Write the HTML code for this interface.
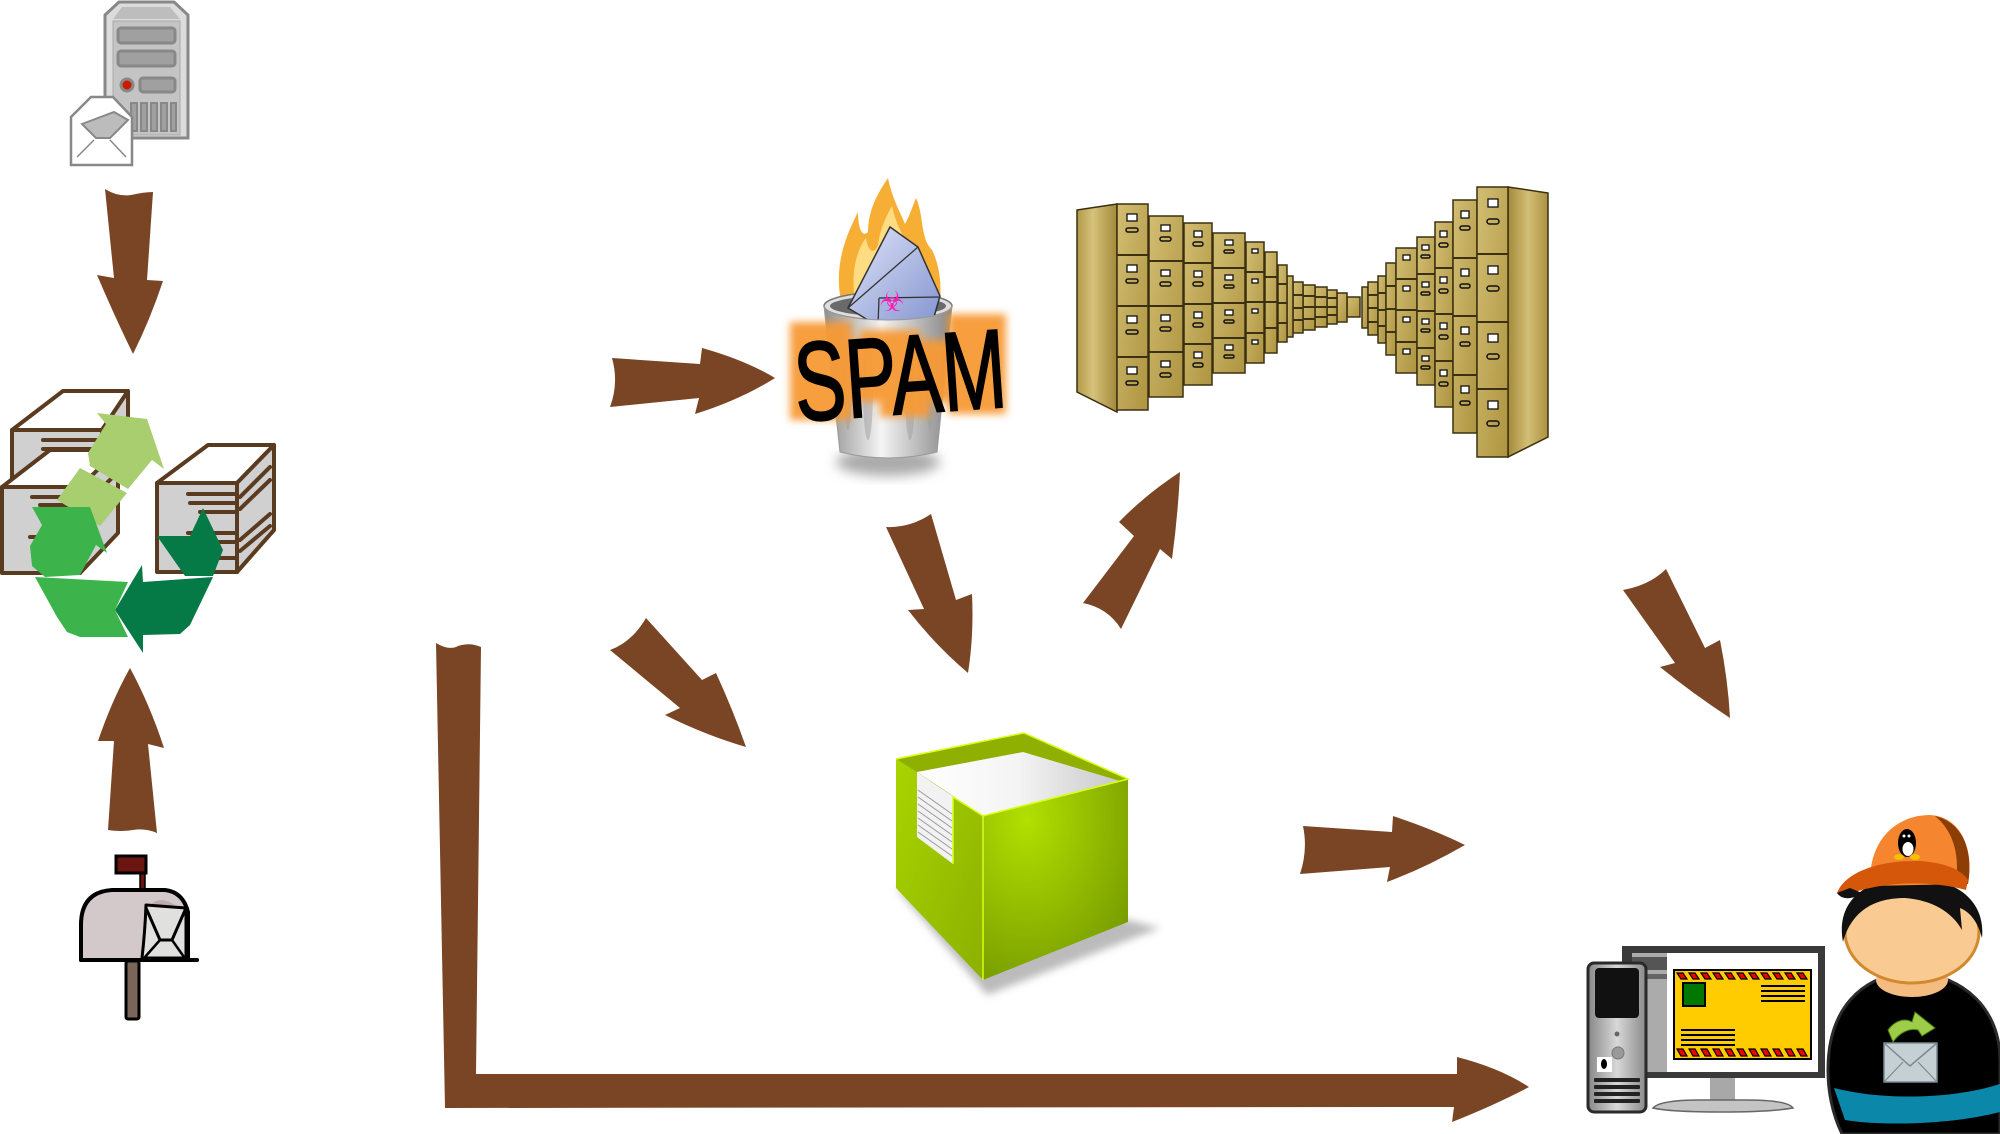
<!DOCTYPE html>
<html><head><meta charset="utf-8">
<style>html,body{margin:0;padding:0;background:#fff;width:2000px;height:1134px;overflow:hidden}</style>
</head><body>
<svg width="2000" height="1134" viewBox="0 0 2000 1134" xmlns="http://www.w3.org/2000/svg">
<defs>
<style>
.ar{fill:#7a4524}
.bx{stroke:#5b3b1f;stroke-width:4;stroke-linejoin:round}
.bl{stroke:#5b3b1f;stroke-width:4;stroke-linecap:round}
.cf{fill:url(#cabF);stroke:#3b3010;stroke-width:1.5}
.dl{stroke:#3b3010;stroke-width:2}
.lb{fill:#fff;stroke:#111;stroke-width:1.3}
.hd{fill:none;stroke:#111;stroke-width:1.5}
</style>
<linearGradient id="cabF" x1="0" y1="0" x2="1" y2="1"><stop offset="0" stop-color="#d2bd72"/><stop offset="1" stop-color="#ad9440"/></linearGradient>
<linearGradient id="cabS" x1="0" y1="0" x2="1" y2="0"><stop offset="0" stop-color="#b39a4a"/><stop offset=".4" stop-color="#d6c27a"/><stop offset="1" stop-color="#a38a3a"/></linearGradient>
<linearGradient id="cabS2" x1="0" y1="0" x2="1" y2="0"><stop offset="0" stop-color="#a38a3a"/><stop offset=".5" stop-color="#d2be76"/><stop offset="1" stop-color="#ab9240"/></linearGradient>
<linearGradient id="canG" x1="0" y1="0" x2="1" y2="0"><stop offset="0" stop-color="#8e8e8e"/><stop offset=".45" stop-color="#f4f4f4"/><stop offset="1" stop-color="#858585"/></linearGradient>
<linearGradient id="envG" x1="0" y1="0" x2="1" y2="1"><stop offset="0" stop-color="#dfe5f7"/><stop offset="1" stop-color="#8393d0"/></linearGradient>
<linearGradient id="papG" x1="0" y1="0" x2="1" y2="0"><stop offset="0" stop-color="#ffffff"/><stop offset=".5" stop-color="#f4f4f4"/><stop offset="1" stop-color="#c8c8c8"/></linearGradient>
<linearGradient id="lfG" x1="0" y1="0" x2="1" y2="1"><stop offset="0" stop-color="#a9d400"/><stop offset="1" stop-color="#8cb000"/></linearGradient>
<radialGradient id="rfG" cx=".3" cy=".2" r=".9"><stop offset="0" stop-color="#b2e000"/><stop offset="1" stop-color="#769a00"/></radialGradient>
<linearGradient id="towG" x1="0" y1="0" x2="1" y2="0"><stop offset="0" stop-color="#888"/><stop offset=".5" stop-color="#d8d8d8"/><stop offset="1" stop-color="#8a8a8a"/></linearGradient>
<filter id="bl4" x="-20%" y="-20%" width="140%" height="140%"><feGaussianBlur stdDeviation="4"/></filter>
<filter id="bl6" x="-30%" y="-30%" width="160%" height="160%"><feGaussianBlur stdDeviation="6"/></filter>
</defs>

<!-- ===== Server icon ===== -->
<polygon points="105,15 119,2 174,2 188,15 188,138 105,138" fill="#dcdcdc" stroke="#888" stroke-width="3"/>
<polygon points="113,19 122,7 170,7 180,19" fill="#bdbdbd"/>
<rect x="113" y="21" width="67" height="114" fill="#c4c4c4" stroke="#aaa" stroke-width="1"/>
<rect x="118" y="28" width="57" height="15" rx="3" fill="#a0a0a0" stroke="#888" stroke-width="3"/>
<rect x="118" y="51" width="57" height="15" rx="3" fill="#a0a0a0" stroke="#888" stroke-width="3"/>
<circle cx="127" cy="85" r="6" fill="#cc1a00" stroke="#888" stroke-width="3"/>
<rect x="140" y="78" width="35" height="14" rx="3" fill="#a0a0a0" stroke="#888" stroke-width="3"/>
<g fill="#a0a0a0" stroke="#888" stroke-width="2">
<rect x="131" y="103" width="6" height="28"/><rect x="141" y="103" width="6" height="28"/><rect x="151" y="103" width="6" height="28"/><rect x="161" y="103" width="6" height="28"/><rect x="171" y="103" width="5" height="28"/>
</g>
<polygon points="71,117 91,97 113,97 132,117 132,165 71,165" fill="#fff" stroke="#888" stroke-width="2.5"/>
<polygon points="82,124 114,112 128,120 110,138 96,138" fill="#bcbcbc" stroke="#888" stroke-width="2"/>
<line x1="77" y1="157" x2="94" y2="140" stroke="#888" stroke-width="1.5"/>
<line x1="126" y1="157" x2="110" y2="140" stroke="#888" stroke-width="1.5"/>

<!-- Arrow down -->
<path class="ar" d="M105,189 Q118,197 131,195 Q144,192 153,192 L147,280 L163,281 Q150,320 133,354 Q114,315 97,275 L114,278 Z"/>

<!-- ===== Recycle icon ===== -->
<g class="bx">
<polygon points="12,430 63,391 128,391 102,430" fill="#fff"/>
<rect x="12" y="430" width="90" height="57" fill="#d0d0d0"/>
<polygon points="102,430 128,391 128,445 102,484" fill="#d0d0d0"/>
<polygon points="2,487 50,450 118,450 80,487" fill="#fff"/>
<rect x="2" y="487" width="78" height="86" fill="#d0d0d0"/>
<polygon points="80,487 118,450 118,533 80,573" fill="#d0d0d0"/>
<polygon points="157,483 208,445 274,445 237,483" fill="#fff"/>
<rect x="157" y="483" width="80" height="89" fill="#d0d0d0"/>
<polygon points="237,483 274,445 274,530 237,572" fill="#d0d0d0"/>
</g>
<g class="bl">
<line x1="43" y1="440" x2="100" y2="440"/><line x1="43" y1="449" x2="100" y2="449"/>
<line x1="32" y1="497" x2="80" y2="497"/><line x1="40" y1="505" x2="80" y2="505"/><line x1="30" y1="537" x2="80" y2="537"/>
<line x1="188" y1="494" x2="237" y2="494"/><line x1="190" y1="503" x2="237" y2="503"/><line x1="200" y1="512" x2="237" y2="512"/>
<line x1="188" y1="533" x2="237" y2="533"/><line x1="198" y1="542" x2="237" y2="542"/><line x1="188" y1="558" x2="237" y2="558"/>
<line x1="240" y1="497" x2="270" y2="467"/><line x1="240" y1="509" x2="270" y2="480"/><line x1="240" y1="540" x2="270" y2="514"/><line x1="240" y1="551" x2="270" y2="526"/>
<line x1="84" y1="505" x2="114" y2="476"/><line x1="84" y1="520" x2="114" y2="490"/>
</g>
<polygon fill="#a8ce70" points="97,413 147,419 164,469 152,460 128,489 90,466 88,453 106,424"/>
<polygon fill="#a8ce70" points="80,468 127,493 100,526 57,500"/>
<polygon fill="#3cb44b" points="32,507 90,507 107,553 96,545 80,575 45,577 32,566 30,546 42,525"/>
<polygon fill="#3cb44b" points="35,577 128,582 115,610 128,637 80,637 67,632 57,617"/>
<polygon fill="#057a47" points="115,610 142,565 143,582 213,577 190,625 180,634 143,635 143,653"/>
<polygon fill="#057a47" points="203,508 223,550 213,576 185,576 157,536 190,536"/>

<!-- Arrow up -->
<path class="ar" d="M130,668 Q150,705 164,748 L148,744 L157,833 Q145,828 133,830 Q120,832 108,830 L114,741 L98,741 Q112,700 130,668 Z"/>

<!-- ===== Mailbox ===== -->
<rect x="140" y="870" width="5" height="22" fill="#6b1510" stroke="#000" stroke-width="1.5"/>
<rect x="116" y="856" width="30" height="17" fill="#6b1510" stroke="#000" stroke-width="3"/>
<path d="M81,960 L81,925 Q81,892 112,890 L165,890 Q183,892 188,912 L188,960 Z" fill="#d3c9cb" stroke="#000" stroke-width="4" stroke-linejoin="round"/>
<path d="M150,905 Q160,895 175,905 Z" fill="#c2aaab"/>
<path d="M146,905 Q145,932 142,958 L186,958 L186,908 Z" fill="#e0e0de" stroke="#000" stroke-width="3" stroke-linejoin="round"/>
<path d="M146,908 L160,940 L172,940 L186,908" fill="none" stroke="#000" stroke-width="3"/>
<line x1="145" y1="957" x2="160" y2="940" stroke="#000" stroke-width="2.5"/>
<line x1="184" y1="957" x2="172" y2="940" stroke="#000" stroke-width="2.5"/>
<line x1="81" y1="960" x2="197" y2="960" stroke="#000" stroke-width="4" stroke-linecap="round"/>
<rect x="126" y="961" width="13" height="58" rx="2" fill="#7a6558" stroke="#000" stroke-width="3"/>

<!-- Arrow to spam -->
<path class="ar" d="M612,358 L700,364 L702,348 Q745,360 775,378 Q740,400 695,414 L699,398 L610,407 Q619,383 612,358 Z"/>

<!-- ===== Spam trash ===== -->
<ellipse cx="888" cy="462" rx="52" ry="14" fill="#aaa" filter="url(#bl6)"/>
<path d="M842,305 C832,265 848,232 858,212 C858,228 862,238 868,232 C868,208 880,190 888,178 C892,198 900,212 905,224 C910,215 913,205 916,198 C924,215 920,238 932,250 C938,262 942,280 940,300 Z" fill="#f7ae35"/>
<path d="M855,300 C850,270 858,248 866,238 C868,252 874,255 878,245 C880,228 887,215 892,206 C896,225 905,240 912,250 C918,262 924,278 922,300 Z" fill="#fddc82"/>
<ellipse cx="888" cy="306" rx="64" ry="14" fill="#dedede" stroke="#777" stroke-width="1.5"/>
<ellipse cx="888" cy="306" rx="58" ry="10" fill="#6a6a6a"/>
<polygon points="848,308 890,227 918,247 940,296 932,324 878,326" fill="url(#envG)" stroke="#333" stroke-width="1.5"/>
<g fill="none" stroke="#333" stroke-width="1.3"><line x1="848" y1="308" x2="918" y2="247"/><line x1="879" y1="298" x2="940" y2="297"/><line x1="878" y1="326" x2="879" y2="298"/></g>
<text x="892" y="311" font-family="DejaVu Sans, sans-serif" font-size="28" fill="#ff1ab4" text-anchor="middle">☣</text>
<path d="M824,306 A64,14 0 0 0 952,306 L937,452 Q888,464 840,452 Z" fill="url(#canG)" stroke="#999" stroke-width="1"/>
<g fill="#9a9a9a" opacity=".45"><ellipse cx="848" cy="385" rx="4" ry="45"/><ellipse cx="868" cy="390" rx="5" ry="50"/><ellipse cx="910" cy="390" rx="5" ry="50"/><ellipse cx="930" cy="385" rx="4" ry="45"/></g>
<g fill="#f79a35" opacity=".95" filter="url(#bl4)">
<rect x="790" y="322" width="62" height="98"/>
<rect x="830" y="340" width="140" height="62"/>
<rect x="948" y="314" width="58" height="100"/>
<rect x="860" y="330" width="60" height="20"/>
<rect x="880" y="395" width="50" height="22"/>
</g>
<text x="794" y="414" font-family="Liberation Sans, sans-serif" font-size="112" textLength="212" lengthAdjust="spacingAndGlyphs" fill="#000" stroke="#000" stroke-width="2" transform="rotate(-4 900 375)">SPAM</text>

<!-- ===== File cabinets ===== -->
<polygon points="1077,210 1117,204 1117,412 1077,392" fill="url(#cabS)" stroke="#3b3010" stroke-width="1.5"/>
<rect class="cf" x="1347" y="297" width="13" height="20"/>
<rect class="cf" x="1337" y="293" width="10" height="29"/>
<rect class="cf" x="1327" y="290" width="10" height="34"/>
<rect class="cf" x="1315" y="287" width="12" height="40"/>
<rect class="cf" x="1303" y="285" width="12" height="45"/>
<rect class="cf" x="1293" y="282" width="10" height="51"/>
<rect class="cf" x="1287" y="276" width="6" height="61"/>
<rect class="cf" x="1278" y="265" width="9" height="77"/>
<rect class="cf" x="1265" y="252" width="12" height="101"/>
<rect class="cf" x="1246" y="242" width="18" height="121"/>
<rect class="cf" x="1213" y="233" width="32" height="140"/>
<rect class="cf" x="1184" y="223" width="28" height="162"/>
<rect class="cf" x="1149" y="216" width="34" height="181"/>
<rect class="cf" x="1117" y="204" width="31" height="206"/>
<g class="dl">
<line x1="1117" y1="255" x2="1148" y2="255"/><line x1="1117" y1="306" x2="1148" y2="306"/><line x1="1117" y1="357" x2="1148" y2="357"/>
<line x1="1149" y1="261" x2="1183" y2="261"/><line x1="1149" y1="306" x2="1183" y2="306"/><line x1="1149" y1="352" x2="1183" y2="352"/>
<line x1="1184" y1="263" x2="1212" y2="263"/><line x1="1184" y1="304" x2="1212" y2="304"/><line x1="1184" y1="344" x2="1212" y2="344"/>
<line x1="1213" y1="268" x2="1245" y2="268"/><line x1="1213" y1="303" x2="1245" y2="303"/><line x1="1213" y1="338" x2="1245" y2="338"/>
<line x1="1246" y1="272" x2="1264" y2="272"/><line x1="1246" y1="302" x2="1264" y2="302"/><line x1="1246" y1="333" x2="1264" y2="333"/>
<line x1="1265" y1="277" x2="1277" y2="277"/><line x1="1265" y1="302" x2="1277" y2="302"/><line x1="1265" y1="328" x2="1277" y2="328"/>
<line x1="1278" y1="284" x2="1287" y2="284"/><line x1="1278" y1="303" x2="1287" y2="303"/><line x1="1278" y1="323" x2="1287" y2="323"/>
<line x1="1293" y1="295" x2="1303" y2="295"/><line x1="1293" y1="308" x2="1303" y2="308"/><line x1="1293" y1="320" x2="1303" y2="320"/>
<line x1="1303" y1="296" x2="1315" y2="296"/><line x1="1303" y1="307" x2="1315" y2="307"/><line x1="1303" y1="319" x2="1315" y2="319"/>
<line x1="1315" y1="297" x2="1327" y2="297"/><line x1="1315" y1="307" x2="1327" y2="307"/><line x1="1315" y1="317" x2="1327" y2="317"/>
<line x1="1327" y1="298" x2="1337" y2="298"/><line x1="1327" y1="307" x2="1337" y2="307"/><line x1="1327" y1="315" x2="1337" y2="315"/>
</g>
<g>
<rect class="lb" x="1127" y="214" width="10" height="7"/><rect class="hd" x="1126" y="228" width="12" height="4" rx="2"/>
<rect class="lb" x="1127" y="265" width="10" height="7"/><rect class="hd" x="1126" y="279" width="12" height="4" rx="2"/>
<rect class="lb" x="1127" y="316" width="10" height="7"/><rect class="hd" x="1126" y="330" width="12" height="4" rx="2"/>
<rect class="lb" x="1127" y="367" width="10" height="7"/><rect class="hd" x="1126" y="381" width="12" height="4" rx="2"/>
<rect class="lb" x="1161" y="225" width="9" height="6"/><rect class="hd" x="1160" y="237" width="11" height="4" rx="2"/>
<rect class="lb" x="1161" y="270" width="9" height="6"/><rect class="hd" x="1160" y="282" width="11" height="4" rx="2"/>
<rect class="lb" x="1161" y="315" width="9" height="6"/><rect class="hd" x="1160" y="327" width="11" height="4" rx="2"/>
<rect class="lb" x="1161" y="361" width="9" height="6"/><rect class="hd" x="1160" y="373" width="11" height="4" rx="2"/>
<rect class="lb" x="1194" y="231" width="8" height="6"/><rect class="hd" x="1193" y="242" width="10" height="4" rx="2"/>
<rect class="lb" x="1194" y="271" width="8" height="6"/><rect class="hd" x="1193" y="282" width="10" height="4" rx="2"/>
<rect class="lb" x="1194" y="312" width="8" height="6"/><rect class="hd" x="1193" y="323" width="10" height="4" rx="2"/>
<rect class="lb" x="1194" y="352" width="8" height="6"/><rect class="hd" x="1193" y="363" width="10" height="4" rx="2"/>
<rect class="lb" x="1225" y="240" width="8" height="5"/><rect class="hd" x="1224" y="250" width="10" height="3" rx="1.5"/>
<rect class="lb" x="1225" y="275" width="8" height="5"/><rect class="hd" x="1224" y="285" width="10" height="3" rx="1.5"/>
<rect class="lb" x="1225" y="310" width="8" height="5"/><rect class="hd" x="1224" y="320" width="10" height="3" rx="1.5"/>
<rect class="lb" x="1225" y="345" width="8" height="5"/><rect class="hd" x="1224" y="355" width="10" height="3" rx="1.5"/>
<rect class="lb" x="1252" y="249" width="6" height="4"/><rect class="lb" x="1252" y="279" width="6" height="4"/><rect class="lb" x="1252" y="309" width="6" height="4"/><rect class="lb" x="1252" y="340" width="6" height="4"/>
</g>
<rect class="cf" x="1362" y="287" width="6" height="41"/>
<rect class="cf" x="1368" y="282" width="10" height="53"/>
<rect class="cf" x="1378" y="276" width="8" height="67"/>
<rect class="cf" x="1386" y="263" width="10" height="92"/>
<rect class="cf" x="1396" y="248" width="21" height="125"/>
<rect class="cf" x="1417" y="237" width="18" height="148"/>
<rect class="cf" x="1435" y="222" width="18" height="185"/>
<rect class="cf" x="1453" y="200" width="24" height="233"/>
<polygon points="1508,187 1548,193 1548,437 1508,457" fill="url(#cabS2)" stroke="#3b3010" stroke-width="1.5"/>
<rect class="cf" x="1477" y="187" width="31" height="270"/>
<g class="dl">
<line x1="1477" y1="254" x2="1508" y2="254"/><line x1="1477" y1="322" x2="1508" y2="322"/><line x1="1477" y1="389" x2="1508" y2="389"/>
<line x1="1453" y1="258" x2="1477" y2="258"/><line x1="1453" y1="316" x2="1477" y2="316"/><line x1="1453" y1="375" x2="1477" y2="375"/>
<line x1="1435" y1="268" x2="1453" y2="268"/><line x1="1435" y1="314" x2="1453" y2="314"/><line x1="1435" y1="361" x2="1453" y2="361"/>
<line x1="1417" y1="274" x2="1435" y2="274"/><line x1="1417" y1="311" x2="1435" y2="311"/><line x1="1417" y1="348" x2="1435" y2="348"/>
<line x1="1396" y1="279" x2="1417" y2="279"/><line x1="1396" y1="310" x2="1417" y2="310"/><line x1="1396" y1="342" x2="1417" y2="342"/>
<line x1="1386" y1="286" x2="1396" y2="286"/><line x1="1386" y1="309" x2="1396" y2="309"/><line x1="1386" y1="332" x2="1396" y2="332"/>
<line x1="1378" y1="293" x2="1386" y2="293"/><line x1="1378" y1="310" x2="1386" y2="310"/><line x1="1378" y1="326" x2="1386" y2="326"/>
<line x1="1368" y1="295" x2="1378" y2="295"/><line x1="1368" y1="308" x2="1378" y2="308"/><line x1="1368" y1="322" x2="1378" y2="322"/>
</g>
<g>
<rect class="lb" x="1488" y="199" width="10" height="8"/><rect class="hd" x="1487" y="219" width="12" height="5" rx="2.5"/>
<rect class="lb" x="1488" y="266" width="10" height="8"/><rect class="hd" x="1487" y="286" width="12" height="5" rx="2.5"/>
<rect class="lb" x="1488" y="334" width="10" height="8"/><rect class="hd" x="1487" y="354" width="12" height="5" rx="2.5"/>
<rect class="lb" x="1488" y="401" width="10" height="8"/><rect class="hd" x="1487" y="421" width="12" height="5" rx="2.5"/>
<rect class="lb" x="1461" y="211" width="8" height="7"/><rect class="hd" x="1460" y="226" width="10" height="4" rx="2"/>
<rect class="lb" x="1461" y="269" width="8" height="7"/><rect class="hd" x="1460" y="284" width="10" height="4" rx="2"/>
<rect class="lb" x="1461" y="327" width="8" height="7"/><rect class="hd" x="1460" y="342" width="10" height="4" rx="2"/>
<rect class="lb" x="1461" y="386" width="8" height="7"/><rect class="hd" x="1460" y="401" width="10" height="4" rx="2"/>
<rect class="lb" x="1440" y="231" width="7" height="6"/><rect class="hd" x="1439" y="243" width="9" height="4" rx="2"/>
<rect class="lb" x="1440" y="277" width="7" height="6"/><rect class="hd" x="1439" y="289" width="9" height="4" rx="2"/>
<rect class="lb" x="1440" y="323" width="7" height="6"/><rect class="hd" x="1439" y="335" width="9" height="4" rx="2"/>
<rect class="lb" x="1440" y="370" width="7" height="6"/><rect class="hd" x="1439" y="382" width="9" height="4" rx="2"/>
<rect class="lb" x="1422" y="245" width="7" height="5"/><rect class="hd" x="1421" y="255" width="9" height="3" rx="1.5"/>
<rect class="lb" x="1422" y="282" width="7" height="5"/><rect class="hd" x="1421" y="292" width="9" height="3" rx="1.5"/>
<rect class="lb" x="1422" y="319" width="7" height="5"/><rect class="hd" x="1421" y="329" width="9" height="3" rx="1.5"/>
<rect class="lb" x="1422" y="356" width="7" height="5"/><rect class="hd" x="1421" y="366" width="9" height="3" rx="1.5"/>
<rect class="lb" x="1403" y="255" width="7" height="5"/><rect class="lb" x="1403" y="286" width="7" height="5"/><rect class="lb" x="1403" y="317" width="7" height="5"/><rect class="lb" x="1403" y="349" width="7" height="5"/>
</g>

<!-- Middle arrows -->
<path class="ar" d="M646,618 L702,680 L716,673 Q733,710 746,747 Q705,735 665,715 L680,708 L610,650 Q632,642 646,618 Z"/>
<path class="ar" d="M886,527 Q910,528 931,514 L956,600 L972,594 Q974,635 968,673 Q935,645 908,610 L924,609 Z"/>
<path class="ar" d="M1083,603 L1134,536 L1119,522 Q1145,495 1180,472 Q1178,515 1172,559 L1160,549 L1121,629 Q1108,608 1083,603 Z"/>
<path class="ar" d="M1623,590 Q1650,585 1666,569 L1705,648 L1720,640 Q1728,680 1730,718 Q1692,693 1660,667 L1675,663 Z"/>

<!-- ===== Green box ===== -->
<polygon points="896,888 987,995 1160,928 1128,920" fill="#bbb" filter="url(#bl4)"/>
<polygon points="896,759 1024,733 1128,779 983,816" fill="#8fb000"/>
<polygon points="917,772 1023,752 1120,781 983,816" fill="url(#papG)"/>
<polygon points="917,772 953,797 953,864 917,837" fill="#f2f2f2"/>
<g stroke="#999" stroke-width="1">
<line x1="918" y1="790" x2="952" y2="814"/><line x1="918" y1="797" x2="952" y2="821"/><line x1="918" y1="804" x2="952" y2="828"/><line x1="918" y1="811" x2="952" y2="835"/><line x1="918" y1="818" x2="952" y2="842"/><line x1="918" y1="825" x2="952" y2="849"/><line x1="918" y1="832" x2="952" y2="856"/>
</g>
<path d="M896,759 L917,772 L917,837 L953,864 L953,797 L983,816 L983,980 L896,888 Z" fill="url(#lfG)"/>
<polygon points="983,816 1128,779 1128,922 983,980" fill="url(#rfG)"/>
<g fill="none" stroke="#d8ff10" stroke-width="1.5">
<polyline points="896,759 1024,733 1128,779 983,816 953,797 953,864"/>
<line x1="983" y1="816" x2="983" y2="980"/>
</g>

<!-- Arrow from box -->
<path class="ar" d="M1303,826 L1392,832 L1393,816 Q1435,830 1465,845 Q1425,868 1387,882 L1390,867 L1300,874 Q1308,850 1303,826 Z"/>

<!-- L arrow -->
<path class="ar" d="M436,643 Q449,651 458,646 Q470,642 481,647 L476,1074 L1457,1074 L1457,1057 Q1500,1068 1529,1087 Q1495,1105 1452,1122 L1454,1107 L445,1108 Z"/>

<!-- ===== Computer ===== -->
<rect x="1622" y="946" width="203" height="132" fill="#3a3a3a"/>
<rect x="1632" y="953" width="186" height="119" fill="#fff"/>
<rect x="1632" y="953" width="35" height="119" fill="#ababab"/>
<rect x="1632" y="957" width="35" height="13" fill="#555"/>
<rect x="1632" y="974" width="35" height="5" fill="#666"/>
<rect x="1674" y="970" width="137" height="89" fill="#ffcc00" stroke="#000" stroke-width="2"/>
<g fill="#e00" stroke="#000" stroke-width="1.2">
<path d="M1677,973 l6,0 l4,6 l-6,0z M1689,973 l6,0 l4,6 l-6,0z M1701,973 l6,0 l4,6 l-6,0z M1713,973 l6,0 l4,6 l-6,0z M1725,973 l6,0 l4,6 l-6,0z M1737,973 l6,0 l4,6 l-6,0z M1749,973 l6,0 l4,6 l-6,0z M1761,973 l6,0 l4,6 l-6,0z M1773,973 l6,0 l4,6 l-6,0z M1785,973 l6,0 l4,6 l-6,0z M1797,973 l6,0 l4,6 l-6,0z"/>
<path d="M1677,1049 l6,0 l4,7 l-6,0z M1689,1049 l6,0 l4,7 l-6,0z M1701,1049 l6,0 l4,7 l-6,0z M1713,1049 l6,0 l4,7 l-6,0z M1725,1049 l6,0 l4,7 l-6,0z M1737,1049 l6,0 l4,7 l-6,0z M1749,1049 l6,0 l4,7 l-6,0z M1761,1049 l6,0 l4,7 l-6,0z M1773,1049 l6,0 l4,7 l-6,0z M1785,1049 l6,0 l4,7 l-6,0z M1797,1049 l6,0 l4,7 l-6,0z"/>
</g>
<rect x="1683" y="983" width="22" height="23" fill="#007700" stroke="#000" stroke-width="2"/>
<g stroke="#000" stroke-width="2">
<line x1="1761" y1="986" x2="1805" y2="986"/><line x1="1761" y1="991" x2="1805" y2="991"/><line x1="1761" y1="996" x2="1805" y2="996"/><line x1="1761" y1="1001" x2="1805" y2="1001"/>
<line x1="1681" y1="1030" x2="1735" y2="1030"/><line x1="1681" y1="1035" x2="1735" y2="1035"/><line x1="1681" y1="1040" x2="1735" y2="1040"/><line x1="1681" y1="1045" x2="1735" y2="1045"/>
</g>
<rect x="1710" y="1078" width="25" height="24" fill="#a8a8a8"/>
<path d="M1653,1108 Q1660,1100 1700,1100 L1745,1100 Q1788,1100 1793,1108 Q1770,1112 1723,1112 Q1670,1112 1653,1108 Z" fill="#c4c4c4" stroke="#666" stroke-width="1.5"/>
<rect x="1588" y="963" width="58" height="149" rx="6" fill="url(#towG)" stroke="#2a2a2a" stroke-width="3"/>
<rect x="1595" y="968" width="44" height="50" rx="4" fill="#111"/>
<circle cx="1617" cy="1034" r="2.5" fill="#666"/>
<circle cx="1618" cy="1053" r="6" fill="#999" stroke="#777"/>
<rect x="1597" y="1057" width="15" height="15" fill="#fff"/>
<ellipse cx="1604" cy="1064" rx="3" ry="5" fill="#000"/>
<g fill="#222"><rect x="1594" y="1078" width="46" height="4" rx="1"/><rect x="1594" y="1085" width="46" height="4" rx="1"/><rect x="1594" y="1092" width="46" height="4" rx="1"/><rect x="1594" y="1099" width="46" height="4" rx="1"/></g>

<!-- ===== Person ===== -->
<path d="M1828,1070 C1828,1010 1860,975 1912,972 C1965,975 2000,1010 2000,1060 L2000,1134 L1842,1134 C1833,1115 1828,1095 1828,1070 Z" fill="#000" stroke="#2a2a2a" stroke-width="3"/>
<path d="M1834,1088 C1880,1100 1950,1100 2000,1084 L2000,1112 C1950,1125 1880,1126 1845,1120 Z" fill="#0b87a9"/>
<ellipse cx="1912" cy="980" rx="36" ry="17" fill="#f4bc80"/>
<ellipse cx="1912" cy="932" rx="67" ry="51" fill="#f9cb92" stroke="#d2882e" stroke-width="3"/>
<path d="M1843,942 C1836,905 1860,880 1905,878 C1952,876 1986,898 1982,938 C1978,922 1970,912 1960,908 L1962,930 C1952,912 1932,900 1905,898 C1875,898 1852,910 1843,942 Z" fill="#111"/>
<path d="M1870,886 C1868,838 1898,815 1930,815 C1962,817 1974,850 1968,884 Z" fill="#f5852f"/>
<path d="M1935,816 C1962,822 1974,850 1968,884 L1956,882 C1960,852 1952,830 1935,816 Z" fill="#8d3d06"/>
<path d="M1837,893 C1845,872 1880,860 1920,861 C1946,863 1962,870 1968,880 L1966,890 C1938,882 1900,881 1870,888 C1854,891 1845,898 1837,893 Z" fill="#d4570a"/>
<path d="M1837,893 C1842,900 1852,900 1862,893 L1850,888 Z" fill="#111"/>
<ellipse cx="1907" cy="843" rx="9" ry="14" fill="#000"/>
<ellipse cx="1908" cy="849" rx="5.5" ry="7" fill="#fff"/>
<circle cx="1904" cy="836" r="1.5" fill="#fff"/><circle cx="1909" cy="836" r="1.5" fill="#fff"/>
<ellipse cx="1899" cy="857" rx="5" ry="3" fill="#f2c200"/><ellipse cx="1915" cy="857" rx="5" ry="3" fill="#f2c200"/>
<path d="M1888,1030 C1895,1020 1905,1018 1912,1022 L1915,1012 L1935,1028 L1922,1036 L1918,1030 C1910,1028 1900,1032 1893,1042 Z" fill="#9ccc48" stroke="#4a7a10" stroke-width="1"/>
<rect x="1884" y="1043" width="53" height="39" fill="#c5d0d5" stroke="#7a8a90" stroke-width="1.5"/>
<path d="M1884,1043 L1910,1066 L1937,1043" fill="none" stroke="#7a8a90" stroke-width="1.5"/>
<line x1="1884" y1="1082" x2="1903" y2="1062" stroke="#7a8a90" stroke-width="1.2"/>
<line x1="1937" y1="1082" x2="1918" y2="1062" stroke="#7a8a90" stroke-width="1.2"/>
</svg>
</body></html>
